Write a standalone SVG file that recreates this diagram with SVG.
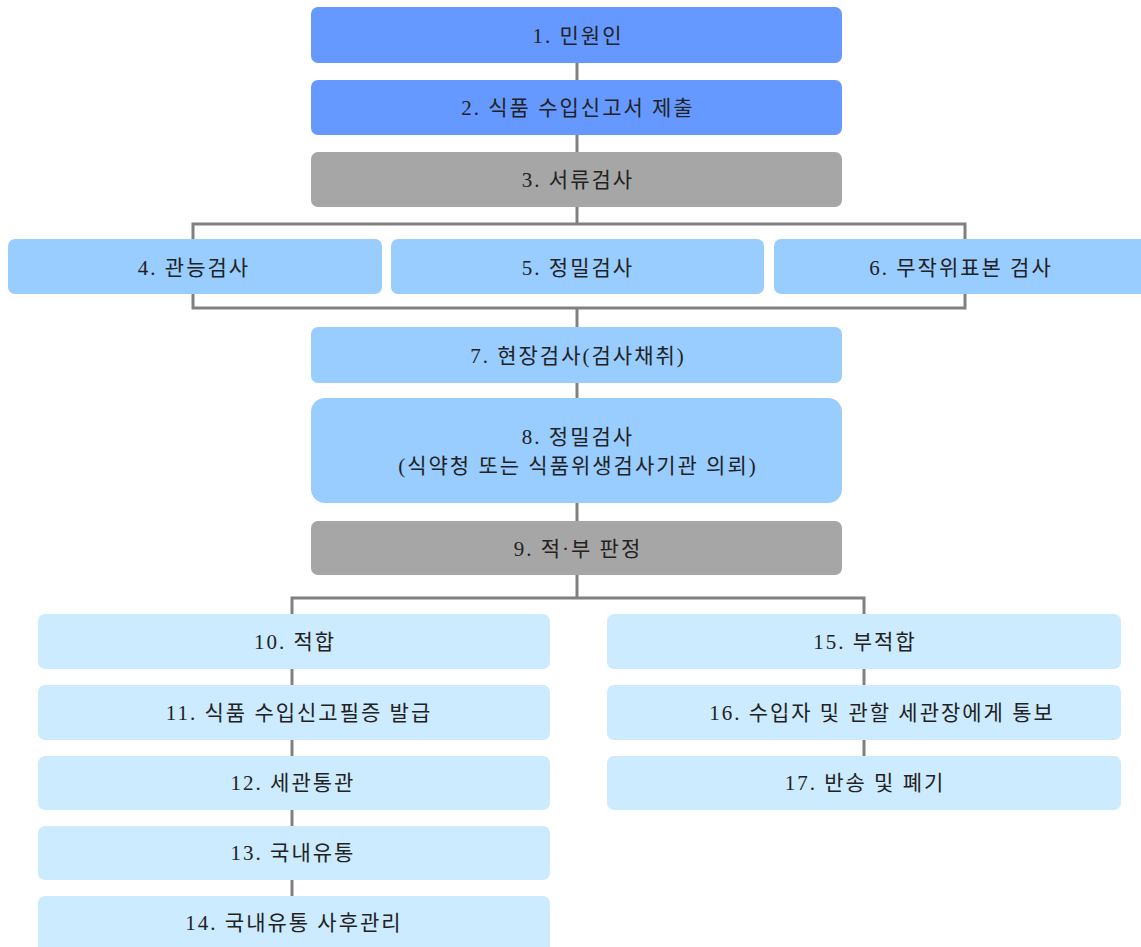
<svg xmlns="http://www.w3.org/2000/svg" width="1141" height="947" viewBox="0 0 1141 947">
<style>
text{font-family:"Liberation Serif","Noto Sans CJK KR",serif;font-size:21px;letter-spacing:2px;fill:#222;text-anchor:middle;dominant-baseline:central}
.c{stroke:#808080;stroke-width:3;fill:none}
.blue{fill:#6699FF}
.gray{fill:#A6A6A6}
.mid{fill:#99CCFF}
.lt{fill:#CCEBFF}
</style>
<rect width="1141" height="947" fill="#fff"/>
<g id="connectors">
<line class="c" x1="577" y1="63" x2="577" y2="80"/>
<line class="c" x1="577" y1="135" x2="577" y2="152"/>
<line class="c" x1="577" y1="207" x2="577" y2="224"/>
<polyline class="c" points="193,239 193,224 965,224 965,239"/>
<polyline class="c" points="193,294 193,308 965,308 965,294"/>
<line class="c" x1="577" y1="308" x2="577" y2="327"/>
<line class="c" x1="577" y1="383" x2="577" y2="398"/>
<line class="c" x1="577" y1="503" x2="577" y2="521"/>
<line class="c" x1="577" y1="575" x2="577" y2="598"/>
<polyline class="c" points="292,614 292,598 864,598 864,614"/>
<line class="c" x1="292" y1="669" x2="292" y2="685"/>
<line class="c" x1="292" y1="740" x2="292" y2="756"/>
<line class="c" x1="292" y1="810" x2="292" y2="826"/>
<line class="c" x1="292" y1="880" x2="292" y2="896"/>
<line class="c" x1="864" y1="669" x2="864" y2="685"/>
<line class="c" x1="864" y1="740" x2="864" y2="756"/>
</g>
<g id="n1"><rect class="blue" x="311" y="7" width="531" height="56" rx="7"/><text x="578" y="36">1. 민원인</text></g>
<g id="n2"><rect class="blue" x="311" y="80" width="531" height="55" rx="7"/><text x="578" y="108">2. 식품 수입신고서 제출</text></g>
<g id="n3"><rect class="gray" x="311" y="152" width="531" height="55" rx="7"/><text x="578" y="180">3. 서류검사</text></g>
<g id="n4"><rect class="mid" x="8" y="239" width="374" height="55" rx="7"/><text x="194" y="268">4. 관능검사</text></g>
<g id="n5"><rect class="mid" x="391" y="239" width="373" height="55" rx="7"/><text x="578" y="268">5. 정밀검사</text></g>
<g id="n6"><rect class="mid" x="774" y="239" width="380" height="55" rx="7"/><text x="961" y="268">6. 무작위표본 검사</text></g>
<g id="n7"><rect class="mid" x="311" y="327" width="531" height="56" rx="7"/><text x="578" y="356">7. 현장검사(검사채취)</text></g>
<g id="n8"><rect class="mid" x="311" y="398" width="531" height="105" rx="14"/><text x="578" y="437">8. 정밀검사</text><text x="578" y="466">(식약청 또는 식품위생검사기관 의뢰)</text></g>
<g id="n9"><rect class="gray" x="311" y="521" width="531" height="54" rx="7"/><text x="578" y="549">9. 적·부 판정</text></g>
<g id="n10"><rect class="lt" x="38" y="614" width="512" height="55" rx="7"/><text x="295" y="642">10. 적합</text></g>
<g id="n11"><rect class="lt" x="38" y="685" width="512" height="55" rx="7"/><text x="299" y="713">11. 식품 수입신고필증 발급</text></g>
<g id="n12"><rect class="lt" x="38" y="756" width="512" height="54" rx="7"/><text x="293" y="783">12. 세관통관</text></g>
<g id="n13"><rect class="lt" x="38" y="826" width="512" height="54" rx="7"/><text x="293" y="853">13. 국내유통</text></g>
<g id="n14"><rect class="lt" x="38" y="896" width="512" height="60" rx="7"/><text x="294" y="923">14. 국내유통 사후관리</text></g>
<g id="n15"><rect class="lt" x="607" y="614" width="514" height="55" rx="7"/><text x="865" y="642">15. 부적합</text></g>
<g id="n16"><rect class="lt" x="607" y="685" width="514" height="55" rx="7"/><text x="882" y="713">16. 수입자 및 관할 세관장에게 통보</text></g>
<g id="n17"><rect class="lt" x="607" y="756" width="514" height="54" rx="7"/><text x="865" y="783">17. 반송 및 폐기</text></g>
</svg>
